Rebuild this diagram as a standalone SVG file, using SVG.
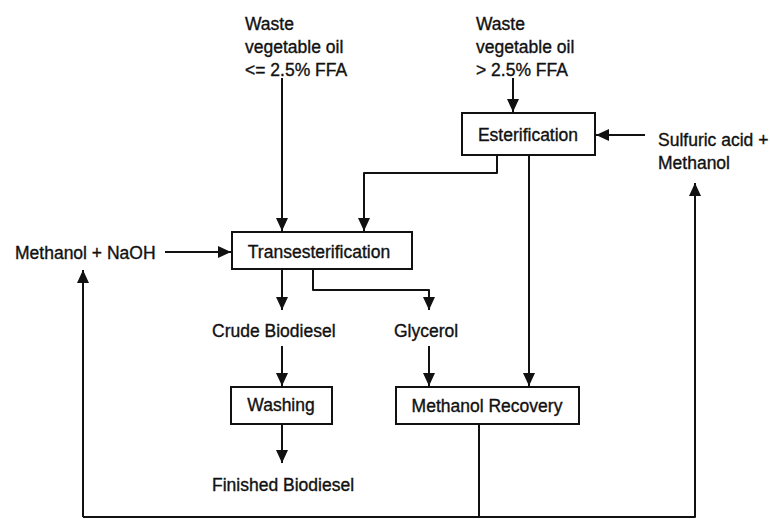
<svg xmlns="http://www.w3.org/2000/svg" width="770" height="519" viewBox="0 0 770 519">
<defs>
<marker id="ah" viewBox="0 0 13 12" refX="13" refY="6" markerWidth="13" markerHeight="12" markerUnits="userSpaceOnUse" orient="auto">
<path d="M0,0 L13,6 L0,12 z" fill="#111"/>
</marker>
<style>
.box{fill:#fff;stroke:#111;stroke-width:2}
.t{font-family:"Liberation Sans",Arial,sans-serif;font-size:17.5px;fill:#111;stroke:#111;stroke-width:0.35}
.m{text-anchor:middle}
.c{fill:none;stroke:#111;stroke-width:2;stroke-linejoin:round}
.a{marker-end:url(#ah)}
</style>
</defs>
<rect width="770" height="519" fill="#fff"/>
<g id="connectors">
<path class="c a" d="M282,78 V231"/>
<path class="c a" d="M513,78 V112"/>
<path class="c a" d="M497,155 V173 H364 V231"/>
<path class="c a" d="M645,135 H596"/>
<path class="c a" d="M165,252 H231"/>
<path class="c a" d="M282,269 V310"/>
<path class="c a" d="M313,269 V290 H429 V310"/>
<path class="c a" d="M282,346 V386"/>
<path class="c a" d="M429,346 V386"/>
<path class="c a" d="M529,155 V386"/>
<path class="c a" d="M282,424 V463"/>
<path class="c" d="M479,424 V517"/>
<path class="c a" d="M83,517 V270"/>
<path class="c a" d="M83,517 H695 V183"/>
</g>
<g id="waste-low">
<text class="t" x="245" y="30">Waste</text>
<text class="t" x="245" y="53">vegetable oil</text>
<text class="t" x="245" y="76">&lt;= 2.5% FFA</text>
</g>
<g id="waste-high">
<text class="t" x="476" y="30">Waste</text>
<text class="t" x="476" y="53">vegetable oil</text>
<text class="t" x="476" y="76">&gt; 2.5% FFA</text>
</g>
<g id="esterification">
<rect class="box" x="462" y="113" width="133" height="42"/>
<text class="t m" x="528" y="141">Esterification</text>
</g>
<g id="sulfuric">
<text class="t" x="658" y="146">Sulfuric acid +</text>
<text class="t" x="658" y="169">Methanol</text>
</g>
<g id="methanol-naoh">
<text class="t" x="15" y="259">Methanol + NaOH</text>
</g>
<g id="transesterification">
<rect class="box" x="232" y="232" width="180" height="37"/>
<text class="t m" x="319" y="258">Transesterification</text>
</g>
<g id="crude">
<text class="t" x="212" y="337">Crude Biodiesel</text>
</g>
<g id="glycerol">
<text class="t" x="394" y="337">Glycerol</text>
</g>
<g id="washing">
<rect class="box" x="231" y="387" width="101" height="37"/>
<text class="t m" x="281" y="411">Washing</text>
</g>
<g id="methanol-recovery">
<rect class="box" x="396" y="387" width="183" height="37"/>
<text class="t m" x="487" y="412">Methanol Recovery</text>
</g>
<g id="finished">
<text class="t" x="212" y="491">Finished Biodiesel</text>
</g>
</svg>
